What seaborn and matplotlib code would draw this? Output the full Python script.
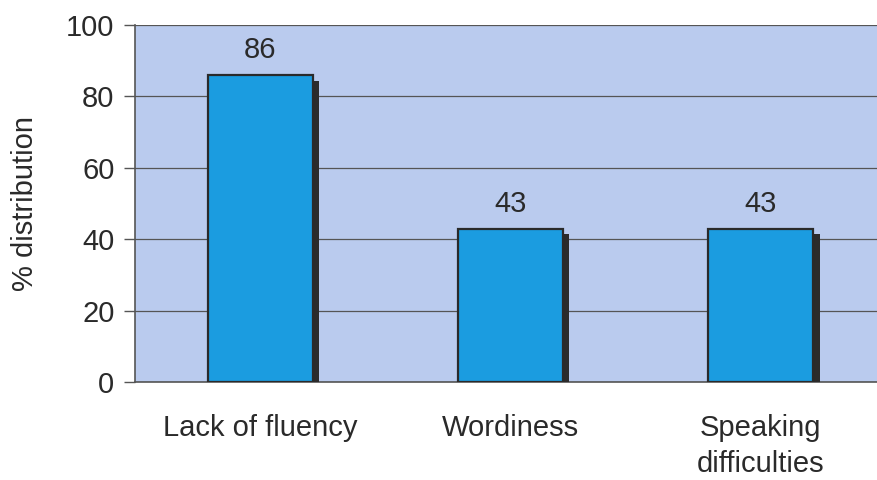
import pandas as pd
import numpy as np
import seaborn as sns
import matplotlib.pyplot as plt
import matplotlib.patheffects as pe

categories = ["Lack of fluency", "Wordiness", "Speaking\ndifficulties"]
values = [86, 43, 43]
y_ticks = [0, 20, 40, 60, 80, 100]

df = pd.DataFrame({"category": categories, "value": values})

sns.set_style("white")
plt.rcParams["font.family"] = ["Liberation Sans", "DejaVu Sans"]

fig = plt.figure(figsize=(8.78, 4.8), dpi=100)
ax = fig.add_axes([0.154, 0.204, 0.855, 0.744])
ax.set_facecolor("#bacbee")

sns.barplot(data=df, x="category", y="value", color="#1b9ce0", saturation=1,
            width=0.42, edgecolor="#2a2a2a", linewidth=1.6, ax=ax, zorder=3)

# drop shadow like the old spreadsheet chart
for p in ax.patches:
    p.set_path_effects([pe.SimplePatchShadow(offset=(4.5, -4), shadow_rgbFace="#2b2b2b", alpha=1),
                        pe.Normal()])

for i, v in enumerate(values):
    ax.text(i, v + 3, str(v), ha="center", va="bottom", fontsize=21, color="#2a2a2a")

ax.set_xlim(-0.5, 2.5)
ax.set_ylim(0, 100)
ax.set_yticks(y_ticks)
ax.yaxis.grid(True, color="#555555", linewidth=0.9)
ax.set_axisbelow(True)

ax.set_xticks([0.5, 1.5], minor=True)
ax.tick_params(axis="x", which="minor", length=8, color="#555555", width=1, direction="out")
ax.tick_params(axis="x", which="major", length=0, pad=23, labelsize=21, labelcolor="#2a2a2a")
ax.tick_params(axis="y", length=8, color="#555555", width=1, direction="out", pad=7,
               labelsize=21, labelcolor="#2a2a2a")
ax.tick_params(axis="y", left=True)
for lbl in ax.get_xticklabels():
    lbl.set_linespacing(1.35)

for s in ["top", "right"]:
    ax.spines[s].set_visible(False)
for s in ["left", "bottom"]:
    ax.spines[s].set_color("#555555")
    ax.spines[s].set_linewidth(1.2)

ax.set_xlabel("")
ax.set_ylabel("% distribution", fontsize=21, color="#2a2a2a")
ax.yaxis.set_label_coords(-0.128, 0.5)

plt.savefig("out.png", dpi=100)
